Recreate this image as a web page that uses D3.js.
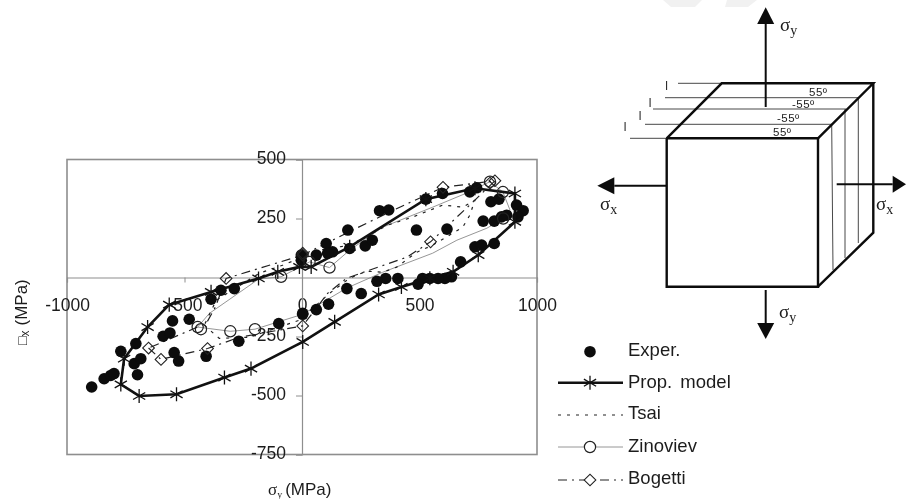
<!DOCTYPE html>
<html>
<head>
<meta charset="utf-8">
<title>Biaxial stress loops</title>
<script src="https://cdn.jsdelivr.net/npm/d3@7"></script>
<style>
  html, body { margin: 0; padding: 0; background: #fff; }
  /* the source is a soft scan */
  svg { display: block; filter: blur(0.45px); }
  text { font-family: "Liberation Sans", Arial, sans-serif; fill: #1c1c1c; }
  .serif { font-family: "Liberation Serif", "Times New Roman", serif; }
</style>
</head>
<body>
<div id="chart"></div>
<script>
// values, [sigma_y, sigma_x] in MPa
const exper = [
  [-895, -464], [-842, -429], [-814, -415], [-800, -407], [-700, -412], [-714, -365],
  [-686, -344], [-771, -313], [-707, -280], [-591, -249], [-562, -235], [-551, -184],
  [-480, -177], [-544, -318], [-525, -354], [-408, -334], [-269, -270], [-99, -195],
  [3, -156], [-387, -92], [-345, -54], [-288, -47], [-3, 73], [-3, 95], [61, 95],
  [103, 144], [130, 109], [109, 103], [195, 201], [203, 123], [269, 134], [299, 158],
  [330, 283], [369, 286], [487, 201], [527, 332], [598, 356], [617, 205], [714, 363],
  [743, 380], [804, 321], [838, 332], [771, 239], [818, 239], [849, 257], [871, 264],
  [913, 307], [941, 283], [919, 257], [818, 144], [736, 130], [764, 137], [675, 66],
  [636, 3], [608, -4], [579, -4], [544, -4], [513, -4], [494, -28], [408, -4], [356, -4],
  [319, -16], [252, -68], [191, -47], [113, -113], [61, -136], [3, -152],
];
const propModel = [
  [-565, -115], [-657, -210], [-757, -344], [-771, -453], [-693, -502], [-534, -495],
  [-330, -424], [-217, -386], [3, -273], [139, -188], [326, -72], [423, -40], [544, -3],
  [643, 24], [750, 95], [906, 236], [906, 356], [736, 378], [527, 332], [203, 130],
  [39, 45], [-11, 45], [-103, 24], [-185, -4], [-387, -61], [-565, -115],
];
const tsai = [
  [-416, -202], [-352, -258], [-224, -253], [-11, -181], [117, -67], [203, -3], [275, 27],
  [343, 22], [403, 44], [488, 107], [556, 137], [684, 213], [714, 264], [736, 328],
  [684, 298], [599, 307], [471, 256], [365, 222], [203, 137], [75, 116], [-83, 52],
  [-181, 18], [-365, -96], [-416, -202],
];
const zinoviev = [
  [-444, -210], [-305, -228], [-200, -219], [2, -156], [190, -45], [343, 22], [556, 103],
  [659, 158], [787, 209], [856, 250], [885, 286], [855, 362], [800, 406], [701, 358],
  [556, 298], [343, 213], [203, 116], [117, 42], [32, 66], [-89, 3], [-185, -7],
  [-394, -152], [-444, -210],
];
const zinovievMarks = [
  [-444, -210], [-430, -219], [-305, -228], [-200, -219], [117, 42], [32, 66], [-89, 3],
  [800, 406], [856, 250], [855, 362],
];
const bogetti = [
  [-653, -299], [-600, -347], [-402, -301], [-266, -253], [3, -205], [109, -67], [190, -3],
  [275, 27], [446, 86], [547, 151], [659, 256], [736, 328], [821, 410], [744, 400],
  [600, 382], [416, 298], [232, 209], [3, 95], [-109, 61], [-323, -4], [-369, -126],
  [-407, -194], [-653, -299],
];
const bogettiMarks = [
  [-653, -299], [-600, -347], [-402, -301], [3, -205], [547, 151], [821, 410], [800, 400],
  [600, 382], [3, 95], [3, 103], [-323, -4],
];
const xTicks = [-1000, -500, 0, 500, 1000];
const yTicks = [500, 250, -250, -500, -750];

const GRAY = '#8e8e8e';
const svg = d3.select('#chart').append('svg').attr('width', 906).attr('height', 499);

// faint marks along the top edge of the scan
svg.selectAll('.smudge')
  .data(['M663,0 L671,7 L695,7 L702,0 Z', 'M727,0 L725,7 L748,7 L757,0 Z'])
  .join('path')
  .attr('d', (d) => d)
  .attr('fill', '#f1f1f1');

const x = d3.scaleLinear().domain([-1000, 1000]).range([67, 537]);
const y = d3.scaleLinear().domain([-750, 500]).range([454.5, 159.5]);

svg.append('rect')
  .attr('x', x(-1000)).attr('y', y(500))
  .attr('width', x(1000) - x(-1000)).attr('height', y(-750) - y(500))
  .attr('fill', 'none').attr('stroke', GRAY).attr('stroke-width', 1.6);

const xAxis = svg.append('g')
  .attr('transform', `translate(0,${y(0)})`)
  .call(d3.axisBottom(x).tickValues(xTicks).tickSize(5).tickPadding(16).tickFormat((d) => d));
const yAxis = svg.append('g')
  .attr('transform', `translate(${x(0)},0)`)
  .call(d3.axisLeft(y).tickValues(yTicks).tickSize(6).tickPadding(10).tickFormat((d) => d));

[xAxis, yAxis].forEach((a) => {
  a.selectAll('.domain').attr('stroke', GRAY).attr('stroke-width', 1.2);
  a.selectAll('.tick line').attr('stroke', GRAY);
  a.selectAll('text')
    .attr('font-size', 17.5)
    .attr('font-family', '"Liberation Sans", Arial, sans-serif')
    .attr('fill', '#1c1c1c');
});
yAxis.selectAll('text').attr('dy', '0.2em');

const line = d3.line().x((d) => x(d[0])).y((d) => y(d[1]));
const asterisk = d3.symbol().type(d3.symbolAsterisk).size(140);
const diamond = d3.symbol().type(d3.symbolSquare).size(68);

function drawAsterisk(g, cx, cy) {
  g.append('path')
    .attr('d', asterisk())
    .attr('transform', `translate(${cx},${cy})`)
    .attr('fill', 'none').attr('stroke', '#111').attr('stroke-width', 1.3);
}

function drawDiamond(g, cx, cy) {
  g.append('path')
    .attr('d', diamond())
    .attr('transform', `translate(${cx},${cy}) rotate(45)`)
    .attr('fill', 'none').attr('stroke', '#222').attr('stroke-width', 1.1);
}

function drawCircle(g, cx, cy, r) {
  g.append('circle')
    .attr('cx', cx).attr('cy', cy).attr('r', r)
    .attr('fill', 'none').attr('stroke', '#222').attr('stroke-width', 1.2);
}

const plot = svg.append('g');

plot.append('path').datum(zinoviev)
  .attr('d', line).attr('fill', 'none').attr('stroke', '#8a8a8a').attr('stroke-width', 0.9);
plot.append('path').datum(tsai)
  .attr('d', line).attr('fill', 'none').attr('stroke', '#222').attr('stroke-width', 1.2)
  .attr('stroke-dasharray', '3 6');
plot.append('path').datum(bogetti)
  .attr('d', line).attr('fill', 'none').attr('stroke', '#222').attr('stroke-width', 1.2)
  .attr('stroke-dasharray', '9 5 2 5');
plot.append('path').datum(propModel)
  .attr('d', line).attr('fill', 'none').attr('stroke', '#111').attr('stroke-width', 2.6);

plot.selectAll('.exper')
  .data(exper)
  .join('circle')
  .attr('cx', (d) => x(d[0])).attr('cy', (d) => y(d[1]))
  .attr('r', 5.8).attr('fill', '#0c0c0c');

propModel.slice(0, -1).forEach((d) => drawAsterisk(plot, x(d[0]), y(d[1])));
zinovievMarks.forEach((d) => drawCircle(plot, x(d[0]), y(d[1]), 5.6));
bogettiMarks.forEach((d) => drawDiamond(plot, x(d[0]), y(d[1])));

// axis titles
const xTitle = svg.append('text').attr('x', 268).attr('y', 495).attr('font-size', 17);
xTitle.append('tspan').attr('class', 'serif').text('σ');
xTitle.append('tspan').attr('class', 'serif').attr('font-size', 10).attr('dy', 3).text('y');
xTitle.append('tspan').attr('dy', -3).attr('dx', 3).text('(MPa)');

const yTitle = svg.append('text')
  .attr('transform', 'translate(27,345) rotate(-90)')
  .attr('font-size', 17);
yTitle.append('tspan').attr('font-size', 14).text('□');
yTitle.append('tspan').attr('font-size', 12).attr('dy', 2).text('x');
yTitle.append('tspan').attr('dy', -2).attr('dx', 5).text('(MPa)');

// legend
const legendX = 628;
const legendNames = ['Exper.', 'Prop. model', 'Tsai', 'Zinoviev', 'Bogetti'];
const legendLineY = [351.7, 382.7, 415, 447, 480];
const legendBase = [356, 388, 419, 452, 484];
const legend = svg.append('g');

legend.selectAll('text')
  .data(legendNames)
  .join('text')
  .attr('x', legendX)
  .attr('y', (d, i) => legendBase[i])
  .attr('font-size', 18.5)
  .attr('word-spacing', 3)
  .text((d) => d);

function legendLine(yPos, stroke, width, dash) {
  legend.append('line')
    .attr('x1', 558).attr('x2', 623).attr('y1', yPos).attr('y2', yPos)
    .attr('stroke', stroke).attr('stroke-width', width)
    .attr('stroke-dasharray', dash);
}

legend.append('circle').attr('cx', 590).attr('cy', legendLineY[0]).attr('r', 5.8).attr('fill', '#0c0c0c');
legendLine(legendLineY[1], '#111', 2.6, null);
drawAsterisk(legend, 590, legendLineY[1]);
legendLine(legendLineY[2], '#222', 1.2, '3 6');
legendLine(legendLineY[3], '#8a8a8a', 0.9, null);
legend.append('circle').attr('cx', 590).attr('cy', legendLineY[3]).attr('r', 5.6)
  .attr('fill', '#fff').attr('stroke', '#222').attr('stroke-width', 1.2);
legendLine(legendLineY[4], '#222', 1.2, '9 5 2 5');
legend.append('path').attr('d', diamond())
  .attr('transform', `translate(590,${legendLineY[4]}) rotate(45)`)
  .attr('fill', '#fff').attr('stroke', '#222').attr('stroke-width', 1.1);

// laminate cube sketch on the right
const cubeEdges = [
  [[666.7, 138.3], [818, 138.3], [818, 286.7], [666.7, 286.7], [666.7, 138.3]],
  [[666.7, 138.3], [721.7, 83.3], [873.3, 83.3], [818, 138.3]],
  [[873.3, 83.3], [873.3, 232.7], [818, 286.7]],
];
const layerLines = [
  [[678, 83.3], [722, 83.3]], [[665, 97.7], [858, 97.7]], [[653, 109], [846, 109]],
  [[645, 124.3], [832, 124.3]], [[630, 138.3], [667, 138.3]],
];
const sideLines = [
  [[831.7, 124.3], [833, 270]], [[845, 109], [845, 258]], [[858.3, 97.7], [858.3, 243]],
];
const arrows = [
  { from: [765.7, 107], to: [765.7, 24], tip: [765.7, 7.3] },
  { from: [666.7, 185.7], to: [614.3, 185.7], tip: [597.3, 185.7] },
  { from: [836.7, 184.3], to: [892.7, 184.3], tip: [906, 184.3] },
  { from: [765.7, 290], to: [765.7, 323], tip: [765.7, 339] },
];
const layerTicks = [[666.7, 90], [650, 107], [640, 120], [625, 131]];
const plyLabels = [
  { text: '55º', x: 809, y: 96 }, { text: '-55º', x: 792, y: 108 },
  { text: '-55º', x: 777, y: 122 }, { text: '55º', x: 773, y: 136 },
];
const sigmaLabels = [
  { sub: 'y', x: 780, y: 31 }, { sub: 'x', x: 600, y: 210 },
  { sub: 'x', x: 876, y: 210 }, { sub: 'y', x: 779, y: 318 },
];

const sketch = svg.append('g');
const plain = d3.line();

sketch.selectAll('.layer')
  .data(layerLines.concat(sideLines))
  .join('path')
  .attr('d', plain).attr('fill', 'none').attr('stroke', '#333').attr('stroke-width', 0.9);
sketch.selectAll('.edge')
  .data(cubeEdges)
  .join('path')
  .attr('d', plain).attr('fill', 'none').attr('stroke', '#0c0c0c').attr('stroke-width', 2.4)
  .attr('stroke-linejoin', 'miter');

arrows.forEach((a) => {
  sketch.append('line')
    .attr('x1', a.from[0]).attr('y1', a.from[1]).attr('x2', a.to[0]).attr('y2', a.to[1])
    .attr('stroke', '#0c0c0c').attr('stroke-width', 2);
  const dx = a.to[0] === a.tip[0] ? 8.5 : 0;
  const dy = a.to[1] === a.tip[1] ? 8.5 : 0;
  sketch.append('path')
    .attr('d', plain([[a.to[0] - dx, a.to[1] - dy], a.tip, [a.to[0] + dx, a.to[1] + dy]]) + 'Z')
    .attr('fill', '#0c0c0c');
});

sketch.selectAll('.layer-tick')
  .data(layerTicks)
  .join('text')
  .attr('x', (d) => d[0]).attr('y', (d) => d[1])
  .attr('font-size', 12).attr('text-anchor', 'middle').attr('fill', '#444')
  .text('l');

sketch.selectAll('.ply')
  .data(plyLabels)
  .join('text')
  .attr('x', (d) => d.x).attr('y', (d) => d.y)
  .attr('font-size', 11.5)
  .attr('letter-spacing', 0.5)
  .text((d) => d.text);

sigmaLabels.forEach((d) => {
  const t = sketch.append('text').attr('class', 'serif').attr('x', d.x).attr('y', d.y).attr('font-size', 19);
  t.append('tspan').attr('class', 'serif').text('σ');
  t.append('tspan').attr('class', 'serif').attr('font-size', 14).attr('dy', 4).text(d.sub);
});
</script>
</body>
</html>
